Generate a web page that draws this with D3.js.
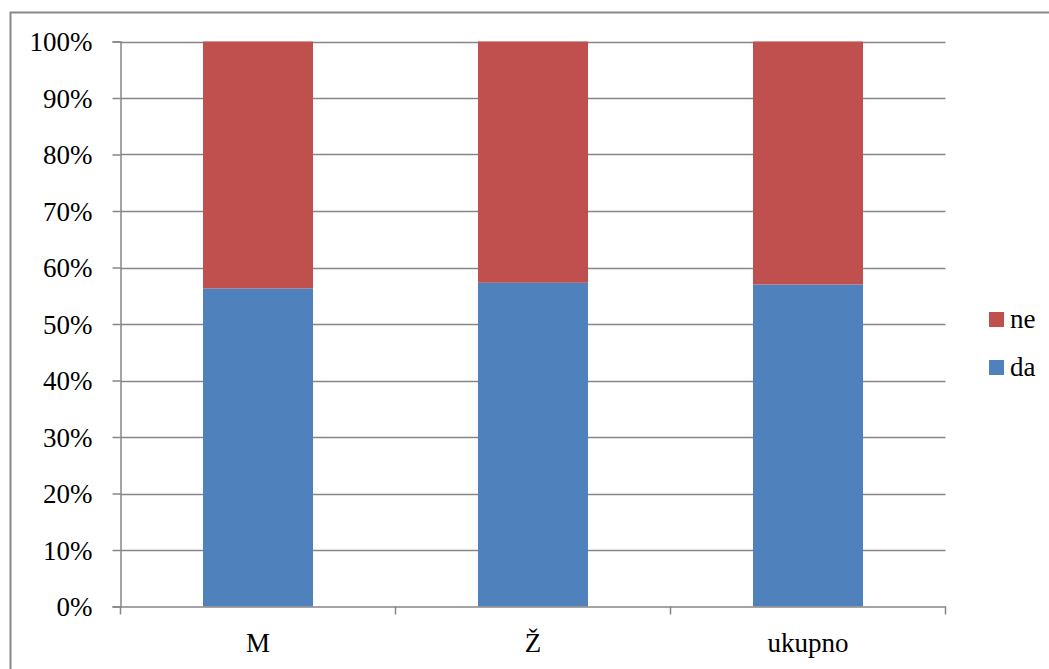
<!DOCTYPE html>
<html>
<head>
<meta charset="utf-8">
<script src="https://cdn.jsdelivr.net/npm/d3@7"></script>
<style>
html,body{margin:0;padding:0;background:#fff;}
svg{display:block;}
svg text{font-family:"Liberation Serif","Times New Roman",serif;fill:#000;}
</style>
</head>
<body>
<svg id="chart" width="1049" height="669"></svg>
<script>
const categories = ["M", "Ž", "ukupno"];
const daValues = [56.3, 57.3, 57.0];
const neValues = [43.7, 42.7, 43.0];
const seriesNames = ["da", "ne"];
const seriesColors = ["#4F81BD", "#C0504D"];
const yTicks = [0, 10, 20, 30, 40, 50, 60, 70, 80, 90, 100];

(function () {
const svg = d3.select("#chart");
const mLeft = 120.5, mRight = 945.5, mTop = 41.5, mBottom = 606.5;
const FONT = '"Liberation Serif","Times New Roman",serif';

svg.append("rect").attr("x", 10.5).attr("y", 12.5).attr("width", 1100).attr("height", 700)
  .attr("fill", "none").attr("stroke", "#888").attr("stroke-width", 2);

const x = d3.scaleBand().domain(categories).range([mLeft, mRight]).paddingInner(0.6).paddingOuter(0.3);
const y = d3.scaleLinear().domain([0, 100]).range([mBottom, mTop]);

svg.append("g").selectAll("line").data(yTicks.filter(d => d > 0)).join("line")
  .attr("x1", mLeft).attr("x2", mRight)
  .attr("y1", d => Math.round(y(d)) + 0.5).attr("y2", d => Math.round(y(d)) + 0.5)
  .attr("stroke", "#868686").attr("stroke-width", 1.5);

const rows = categories.map((c, i) => ({cat: c, da: daValues[i], ne: neValues[i]}));
const stack = d3.stack().keys(seriesNames)(rows);
stack.forEach((s, si) => {
  svg.append("g").selectAll("rect").data(s).join("rect")
    .attr("x", d => x(d.data.cat))
    .attr("width", x.bandwidth())
    .attr("y", d => y(d[1]))
    .attr("height", d => y(d[0]) - y(d[1]))
    .attr("fill", seriesColors[si]);
});

const yAxis = d3.axisLeft(y).tickValues(yTicks).tickFormat(d => d + "%").tickSize(8).tickPadding(20);
const gy = svg.append("g").attr("transform", `translate(${mLeft},0)`).call(yAxis)
  .attr("font-family", FONT).attr("font-size", 27);
gy.select(".domain").attr("stroke", "#868686").attr("stroke-width", 1.5);
gy.selectAll(".tick line").attr("stroke", "#868686").attr("stroke-width", 1.5);
gy.selectAll(".tick text").style("font-family", FONT).style("font-size", "27px").attr("fill", "#000").attr("dy", "0.34em");

const xAxis = d3.axisBottom(x).tickSize(0).tickPadding(26);
const gx = svg.append("g").attr("transform", `translate(0,${mBottom})`).call(xAxis)
  .attr("font-family", FONT).attr("font-size", 27);
gx.select(".domain").attr("stroke", "#868686").attr("stroke-width", 1.5);
gx.selectAll(".tick text").style("font-family", FONT).style("font-size", "27px").attr("fill", "#000");
const bounds = [mLeft, ...categories.map(c => x(c) + x.bandwidth() / 2 + x.step() / 2)];
gx.append("g").selectAll("line").data(bounds).join("line")
  .attr("x1", d => d).attr("x2", d => d).attr("y1", 0).attr("y2", 8)
  .attr("stroke", "#868686").attr("stroke-width", 1.5);

const legendItems = ["ne", "da"];
const lg = svg.append("g").attr("transform", "translate(989,312)");
legendItems.forEach((name, i) => {
  const g = lg.append("g").attr("transform", `translate(0,${i * 48})`);
  g.append("rect").attr("width", 15).attr("height", 15).attr("fill", seriesColors[seriesNames.indexOf(name)]);
  g.append("text").attr("x", 21).attr("y", 16).style("font-family", FONT).style("font-size", "27px").text(name);
});
})();
</script>
</body>
</html>
